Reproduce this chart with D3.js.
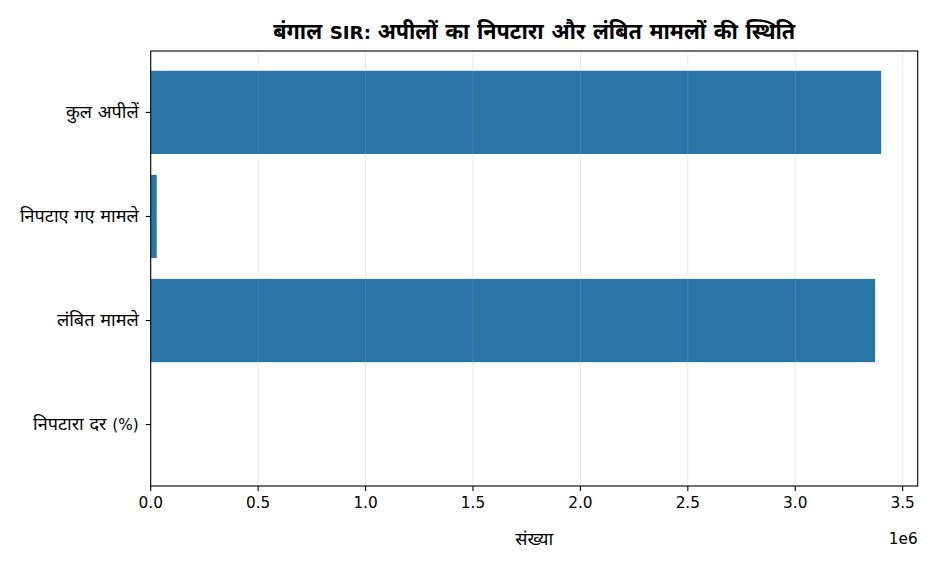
<!DOCTYPE html>
<html><head><meta charset="utf-8">
<script src="https://cdn.jsdelivr.net/npm/d3@7"></script>
<style>body{margin:0;background:#fff}svg text{font-family:"DejaVu Sans","Noto Sans Devanagari","Noto Sans",sans-serif;fill:#000}</style>
</head><body>
<script>
const categories = ["कुल अपीलें", "निपटाए गए मामले", "लंबित मामले", "निपटारा दर (%)"];
const values = [3400000, 28000, 3372000, 0.82];
const xTicks = [0, 0.5e6, 1e6, 1.5e6, 2e6, 2.5e6, 3e6, 3.5e6];
const xTickLabels = ["0.0","0.5","1.0","1.5","2.0","2.5","3.0","3.5"];
const title = "बंगाल SIR: अपीलों का निपटारा और लंबित मामलों की स्थिति";
const xLabel = "संख्या";

const W = 936, H = 572;
const L = 150.7, R = 917.7, T = 51, B = 486;
const FS = 15.3, DEV = 1.18;
const svg = d3.select("body").append("svg").attr("width", W).attr("height", H);

function runs(sel, str, fs) {
  const parts = str.split(/([\u0900-\u097F][\u0900-\u097F ]*)/).filter(s => s.length);
  sel.each(function () {
    const t = d3.select(this);
    parts.forEach(p => {
      const dev = /[\u0900-\u097F]/.test(p);
      t.append("tspan").attr("font-size", dev ? fs * DEV : fs).text(p);
    });
  });
}

const xmax = d3.max(values) * 1.05;
const x = d3.scaleLinear().domain([0, xmax]).range([L, R]);
const n = categories.length;
const y = d3.scaleLinear().domain([-0.4 - 0.19, n - 1 + 0.4 + 0.19]).range([T, B]);
const bw = 0.8;

svg.append("g").selectAll("rect").data(values).join("rect")
  .attr("x", x(0))
  .attr("y", (d, i) => y(i - bw / 2))
  .attr("width", d => x(d) - x(0))
  .attr("height", (d, i) => y(i + bw / 2) - y(i - bw / 2))
  .attr("fill", "#2975a7");

svg.append("g").selectAll("line").data(xTicks).join("line")
  .attr("x1", d => x(d)).attr("x2", d => x(d))
  .attr("y1", T).attr("y2", B)
  .attr("stroke", "#b0b0b0").attr("stroke-opacity", 0.3).attr("stroke-width", 0.9);

svg.append("rect").attr("x", L).attr("y", T).attr("width", R - L).attr("height", B - T)
  .attr("fill", "none").attr("stroke", "#000").attr("stroke-width", 1.1);

const xa = svg.append("g");
xa.selectAll("line").data(xTicks).join("line")
  .attr("x1", d => x(d)).attr("x2", d => x(d))
  .attr("y1", B).attr("y2", B + 5).attr("stroke", "#000").attr("stroke-width", 1.1);
xa.selectAll("text").data(xTicks).join("text")
  .attr("x", d => x(d)).attr("y", B + 22)
  .attr("text-anchor", "middle").attr("font-size", FS)
  .text((d, i) => xTickLabels[i]);

const ya = svg.append("g");
ya.selectAll("line").data(categories).join("line")
  .attr("x1", L - 5).attr("x2", L)
  .attr("y1", (d, i) => y(i)).attr("y2", (d, i) => y(i))
  .attr("stroke", "#000").attr("stroke-width", 1.1);
ya.selectAll("text").data(categories).join("text")
  .attr("x", L - 12).attr("y", (d, i) => y(i) + 5.5)
  .attr("text-anchor", "end").attr("font-size", FS)
  .each(function (d) { runs(d3.select(this), d, FS); });

runs(svg.append("text").attr("x", (L + R) / 2).attr("y", 545)
  .attr("text-anchor", "middle").attr("font-size", FS), xLabel, FS);
svg.append("text").attr("x", R).attr("y", 544)
  .attr("text-anchor", "end").attr("font-size", FS).text("1e6");
runs(svg.append("text").attr("x", (L + R) / 2).attr("y", 39)
  .attr("text-anchor", "middle").attr("font-size", 18.3).attr("font-weight", "bold"), title, 18.3);
</script>
</body></html>
